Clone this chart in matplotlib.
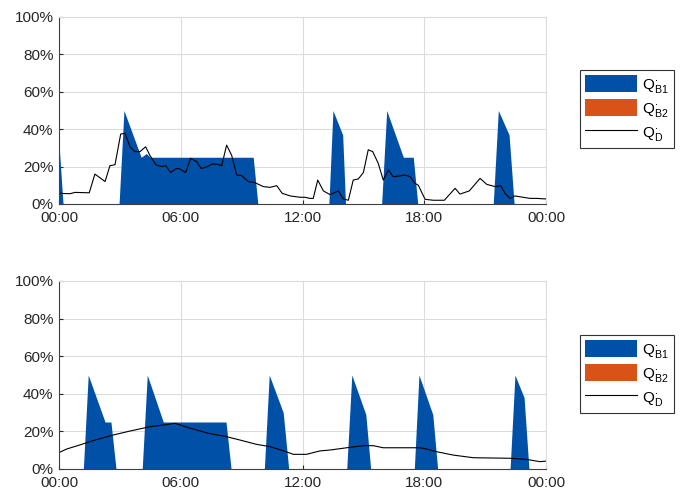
import matplotlib
matplotlib.use('Agg')
import matplotlib.pyplot as plt

plt.rcParams['font.family'] = ['Liberation Sans', 'DejaVu Sans']
plt.rcParams['mathtext.fontset'] = 'custom'
plt.rcParams['mathtext.rm'] = 'Liberation Sans'
plt.rcParams['mathtext.it'] = 'Liberation Sans'

# hours of the day, values in %
top_b1_t = [0, 0.2, 2.96, 3.2, 4.05, 4.3, 4.5, 9.57, 9.8, 13.3, 13.5, 13.98, 14.12,
            15.9, 16.15, 16.97, 17.46, 17.68, 21.4, 21.65, 22.18, 22.43, 24]
top_b1_v = [32, 0, 0, 50, 25, 27, 25, 25, 0, 0, 50, 37, 0,
            0, 50, 25, 25, 0, 0, 50, 37, 0, 0]

top_d_t = [0, 0.54, 0.79, 1.49, 1.77, 2.27, 2.51, 2.76, 3.04, 3.25, 3.5, 3.74, 3.99,
           4.27, 4.48, 4.77, 5.06, 5.26, 5.5, 5.77, 5.96, 6.24, 6.49, 6.79, 7.0,
           7.23, 7.56, 7.8, 8.02, 8.26, 8.51, 8.76, 9.0, 9.33, 9.66, 10.07, 10.4,
           10.73, 11.0, 11.4, 11.88, 12.12, 12.37, 12.53, 12.75, 13.03, 13.36,
           13.77, 14.01, 14.26, 14.5, 14.75, 15.0, 15.24, 15.46, 15.73, 15.98,
           16.23, 16.47, 16.8, 17.05, 17.3, 17.55, 17.71, 18.04, 18.45, 18.99,
           19.52, 19.76, 20.22, 20.75, 21.08, 21.49, 21.77, 21.98, 22.23, 22.47,
           23.21, 23.54, 24]
top_d_v = [5.7, 5.5, 6.2, 6.0, 16, 12, 20.5, 21, 37.4, 37.8, 30.6, 28, 28,
           30.6, 26, 21, 20, 20.5, 16.8, 19, 18.7, 16.8, 24.4, 22.6, 19,
           19.6, 21.4, 21.2, 20.5, 31.5, 26, 15.5, 15.2, 12, 11.4, 9.3, 8.9,
           9.8, 5.7, 4.3, 3.6, 3.6, 3.0, 3.0, 12.8, 7.0, 5.0,
           7.0, 2.7, 2.0, 12.8, 13.4, 16.8, 29, 28, 21.8, 12.8,
           18.2, 14.6, 15, 15.5, 14.6, 11, 10, 2.5, 2.0, 2.0,
           8.4, 5.3, 7.0, 13.7, 10.5, 9.3, 9.8, 5.7, 3.0, 4.3,
           3.0, 3.0, 2.7]

bot_b1_t = [0, 1.2, 1.44, 2.27, 2.56, 2.81, 4.1, 4.35, 5.14, 8.23, 8.48,
            10.12, 10.36, 11.05, 11.32, 14.18, 14.43, 15.12, 15.36,
            17.51, 17.74, 18.42, 18.66, 22.23, 22.47, 22.92, 23.16, 24]
bot_b1_v = [0, 0, 50, 25, 25, 0, 0, 50, 25, 25, 0,
            0, 50, 30, 0, 0, 50, 29, 0,
            0, 50, 29, 0, 0, 50, 38, 0, 0]

bot_d_t = [0, 0.37, 1.03, 1.77, 2.68, 3.5, 4.48, 5.14, 5.72, 6.37, 7.36, 8.26,
           8.92, 9.74, 10.4, 11.05, 11.55, 12.2, 12.85, 13.36, 14.18, 15.0,
           15.49, 15.98, 16.64, 17.79, 18.12, 18.61, 19.43, 20.42, 22.23,
           23.05, 23.7, 24]
bot_d_v = [8.7, 10.6, 12.8, 15.4, 18.1, 20.2, 22.5, 23.4, 24.3, 22, 19, 17.2,
           15.4, 13.1, 11.9, 9.7, 7.8, 7.8, 9.6, 10.1, 11.3, 12.4,
           12.4, 11.3, 11.3, 11.3, 10.6, 9.2, 7.4, 6.0, 5.7,
           5.1, 3.9, 4.2]

x_ticks = [0, 6, 12, 18, 24]
x_labels = ['00:00', '06:00', '12:00', '18:00', '00:00']
y_ticks = [0, 20, 40, 60, 80, 100]

blue = '#0050a8'
orange = '#d95319'
W, H = 680, 492

fig = plt.figure(figsize=(W / 100, H / 100), dpi=100)

def make_axes(rect, b1_t, b1_v, d_t, d_v, leg_top):
    ax = fig.add_axes(rect)
    ax.fill_between(b1_t, 0, b1_v, color=blue, lw=0, label=r'$\mathregular{Q^{\cdot}_{B1}}$')
    ax.fill_between(b1_t, b1_v, b1_v, color=orange, lw=0, label=r'$\mathregular{Q^{\cdot}_{B2}}$')
    ax.plot(d_t, d_v, color='black', lw=0.8, label=r'$\mathregular{Q^{\cdot}_{D}}$')
    ax.set_xlim(0, 24)
    ax.set_ylim(0, 100)
    ax.set_xticks(x_ticks)
    ax.set_xticklabels(x_labels)
    ax.set_yticks(y_ticks)
    ax.set_yticklabels(['{}%'.format(v) for v in y_ticks])
    ax.grid(True, color='#dcdcdc', lw=0.8)
    ax.set_axisbelow(True)
    ax.tick_params(direction='in', length=3, labelsize=11, colors='#262626')
    ax.tick_params(axis='x', pad=5)
    ax.tick_params(axis='y', pad=4)
    for s in ['left', 'bottom']:
        ax.spines[s].set_color('#404040')
    for s in ['top', 'right']:
        ax.spines[s].set_color('#dcdcdc')
    leg = ax.legend(loc='upper left', bbox_to_anchor=(580 / W, 1 - leg_top / H),
                    bbox_transform=fig.transFigure, borderaxespad=0,
                    fancybox=False, framealpha=1, edgecolor='#333333',
                    fontsize=11, handlelength=3.4, handleheight=1.3,
                    handletextpad=0.3, labelspacing=0.3, borderpad=0.35)
    leg.get_frame().set_linewidth(0.8)
    return ax

make_axes([59 / W, 1 - 204 / H, 487 / W, 187 / H],
          top_b1_t, top_b1_v, top_d_t, top_d_v, 70)
make_axes([59 / W, 1 - 469 / H, 487 / W, 188 / H],
          bot_b1_t, bot_b1_v, bot_d_t, bot_d_v, 335)

fig.savefig('out.png', dpi=100)
